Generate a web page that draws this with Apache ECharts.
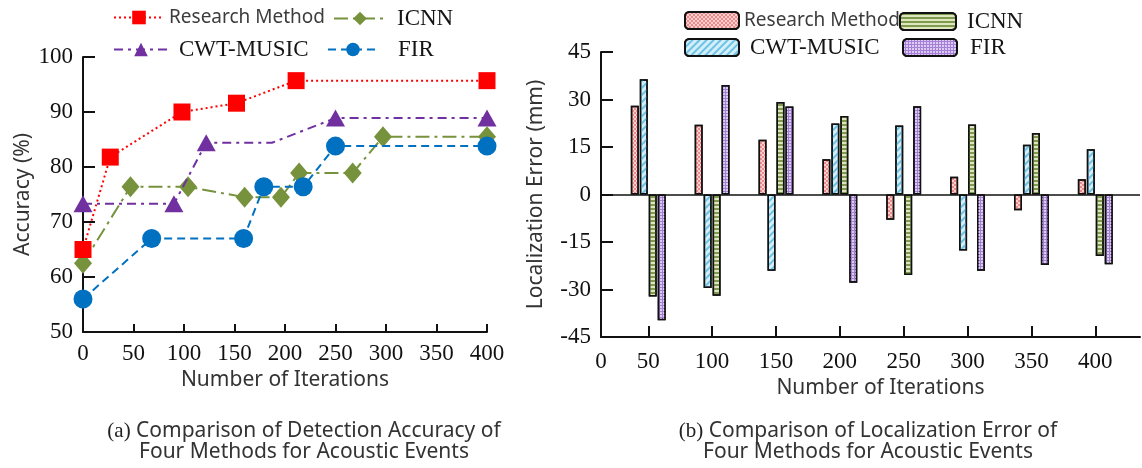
<!DOCTYPE html>
<html>
<head>
<meta charset="utf-8">
<script src="https://cdn.jsdelivr.net/npm/echarts@6/dist/echarts.min.js"></script>
<style>
  html, body { margin: 0; padding: 0; background: #fff; }
  #main { width: 1142px; height: 468px; }
</style>
</head>
<body>
<div id="main"></div>
<script>
// (a) accuracy vs iterations
var iterRM = [0, 27, 98, 152, 211, 400];
var accRM = [65, 81.8, 90, 91.6, 95.7, 95.7];
var iterICNN = [0, 47, 104, 160, 196, 214, 267, 297, 400];
var accICNN = [62.5, 76.4, 76.4, 74.5, 74.5, 78.9, 78.9, 85.5, 85.5];
var iterCWT = [0, 90, 122, 187, 250, 400];
var accCWT = [73.3, 73.3, 84.4, 84.4, 88.9, 88.9];
var markCWT = [1, 1, 1, 0, 1, 1]; // bend point without marker
var iterFIR = [0, 68, 159, 179, 218, 250, 400];
var accFIR = [56, 67, 67, 76.4, 76.4, 83.8, 83.8];

// (b) localization error per iteration group
var errIter = [50, 100, 150, 200, 250, 300, 350, 400];
var errRM = [28.0, 22.0, 17.3, 11.1, -8.0, 5.6, -5.0, 4.8];
var errCWT = [36.4, -29.5, -24.1, 22.4, 21.8, -17.7, 15.7, 14.3];
var errICNN = [-32.2, -32.0, 29.2, 24.8, -25.4, 22.1, 19.4, -19.4];
var errFIR = [-39.7, 34.6, 27.8, -27.9, 27.9, -24.1, -22.3, -22.0];
var errTickLabels = ['0', '50', '100', '150', '200', '250', '300', '350', '400'];

var SANS = 'Noto Sans';
var SERIF = 'Liberation Serif';

function pairs(xs, ys, marks) {
    return xs.map(function (x, i) {
        if (marks && !marks[i]) {
            return { value: [x, ys[i]], symbol: 'none' };
        }
        return [x, ys[i]];
    });
}

function legendItem(name, left, top, serif, pad, iw) {
    return {
        data: [name],
        left: left,
        top: top,
        padding: 0,
        itemWidth: iw || 54,
        itemHeight: 17,
        selectedMode: false,
        formatter: function (n) { return n.replace('b:', ''); },
        textStyle: {
            fontFamily: serif ? SERIF : SANS,
            fontSize: serif ? 23 : 19,
            color: serif ? '#151515' : '#3c3c3c',
            padding: [0, 0, 0, pad || 0]
        }
    };
}

function barDecal(color, dx, dy, rot) {
    return { symbol: 'rect', symbolSize: 1, color: color, dashArrayX: dx, dashArrayY: dy, rotation: rot || 0 };
}

var captionStyle = {
    fontFamily: SANS, fontSize: 21, fontWeight: 'normal', color: '#333', lineHeight: 21,
    rich: { p: { fontFamily: SERIF, fontSize: 21, color: '#222', lineHeight: 21 } }
};

var myChart = echarts.init(document.getElementById('main'));

var option = {
    animation: false,
    title: [
        {
            text: '{p|(a)} Comparison of Detection Accuracy of\nFour Methods for Acoustic Events',
            left: 304, top: 421, padding: 0, textAlign: 'center',
            textStyle: captionStyle
        },
        {
            text: '{p|(b)} Comparison of Localization Error of\nFour Methods for Acoustic Events',
            left: 868, top: 421, padding: 0, textAlign: 'center',
            textStyle: captionStyle
        }
    ],
    legend: [
        legendItem('Research Method', 113, 8, false, 0, 50),
        legendItem('ICNN', 333, 7, true, 6, 52),
        legendItem('CWT-MUSIC', 113, 38, true, 6),
        legendItem('FIR', 327, 38, true, 15, 50),
        legendItem('b:Research Method', 684, 11, false, 0),
        legendItem('b:ICNN', 899, 10, true, 6, 56),
        legendItem('b:CWT-MUSIC', 684, 36, true, 6),
        legendItem('b:FIR', 902, 36, true, 8)
    ],
    grid: [
        { left: 83, top: 57, width: 404, height: 275 },
        { left: 601, top: 52, width: 539, height: 285 }
    ],
    xAxis: [
        {
            gridIndex: 0, type: 'value', min: 0, max: 400, interval: 50,
            name: 'Number of Iterations', nameLocation: 'middle', nameGap: 36,
            nameTextStyle: { fontFamily: SANS, fontSize: 21, color: '#333' },
            axisLine: { show: true, onZero: false, lineStyle: { color: '#111', width: 2 } },
            axisTick: { show: true, inside: true, length: 8, lineStyle: { color: '#111', width: 2 } },
            axisLabel: { fontFamily: SERIF, fontSize: 23, color: '#111', margin: 10 },
            splitLine: { show: false }
        },
        {
            gridIndex: 1, type: 'value', min: 13, max: 435,
            name: 'Number of Iterations', nameLocation: 'middle', nameGap: 28,
            nameTextStyle: { fontFamily: SANS, fontSize: 21, color: '#333', padding: [0, 0, 0, 20] },
            axisLine: { show: true, onZero: false, lineStyle: { color: '#111', width: 2 } },
            axisTick: { show: true, inside: true, length: 11, customValues: errIter, lineStyle: { color: '#111', width: 2 } },
            axisLabel: {
                fontFamily: SERIF, fontSize: 23, color: '#111', margin: 13,
                customValues: [13].concat(errIter),
                formatter: function (v) { return v < 50 ? errTickLabels[0] : String(v); }
            },
            splitLine: { show: false }
        }
    ],
    yAxis: [
        {
            gridIndex: 0, type: 'value', min: 50, max: 100, interval: 10,
            name: 'Accuracy (%)', nameLocation: 'middle', nameGap: 49,
            nameTextStyle: { fontFamily: SANS, fontSize: 21, color: '#333' },
            axisLine: { show: true, onZero: false, lineStyle: { color: '#111', width: 2 } },
            axisTick: { show: true, inside: true, length: 12, lineStyle: { color: '#111', width: 2 } },
            axisLabel: { fontFamily: SERIF, fontSize: 23, color: '#111', margin: 10 },
            splitLine: { show: false }
        },
        {
            gridIndex: 1, type: 'value', min: -45, max: 45, interval: 15,
            name: 'Localization Error (mm)', nameLocation: 'middle', nameGap: 54,
            nameTextStyle: { fontFamily: SANS, fontSize: 21, color: '#333' },
            axisLine: { show: true, onZero: false, lineStyle: { color: '#111', width: 2 } },
            axisTick: { show: true, inside: true, length: 12, lineStyle: { color: '#111', width: 2 } },
            axisLabel: { fontFamily: SERIF, fontSize: 23, color: '#111', margin: 10 },
            splitLine: { show: false }
        }
    ],
    series: [
        {
            name: 'Research Method', type: 'line', xAxisIndex: 0, yAxisIndex: 0,
            data: pairs(iterRM, accRM), symbol: 'rect', symbolSize: 17, z: 5,
            itemStyle: { color: '#ff0000' },
            lineStyle: { color: '#ff0000', width: 2, type: [2, 3] }
        },
        {
            name: 'ICNN', type: 'line', xAxisIndex: 0, yAxisIndex: 0,
            data: pairs(iterICNN, accICNN), symbol: 'diamond', symbolSize: [18, 21], z: 3,
            itemStyle: { color: '#76923c' },
            lineStyle: { color: '#76923c', width: 2, type: [14, 5, 3, 5] }
        },
        {
            name: 'CWT-MUSIC', type: 'line', xAxisIndex: 0, yAxisIndex: 0,
            data: pairs(iterCWT, accCWT, markCWT), symbol: 'triangle', symbolSize: [19, 17], z: 4,
            itemStyle: { color: '#7030a0' },
            lineStyle: { color: '#7030a0', width: 2, type: [9, 5, 3, 5] }
        },
        {
            name: 'FIR', type: 'line', xAxisIndex: 0, yAxisIndex: 0,
            data: pairs(iterFIR, accFIR), symbol: 'circle', symbolSize: 19, z: 4,
            itemStyle: { color: '#0070c0' },
            lineStyle: { color: '#0070c0', width: 2, type: [8, 5] }
        },
        {
            name: 'b:Research Method', type: 'bar', xAxisIndex: 1, yAxisIndex: 1,
            data: pairs(errIter, errRM), barWidth: 8, barGap: '12%',
            itemStyle: {
                color: '#fbd0d0', borderColor: '#111', borderWidth: 1.5,
                decal: barDecal('rgba(226,90,90,0.6)', [[2, 2], [0, 2, 2, 0]], [2, 0])
            },
            markLine: {
                silent: true, symbol: ['none', 'none'], label: { show: false },
                lineStyle: { color: '#111', type: 'solid', width: 1.5 },
                data: [{ yAxis: 0 }]
            }
        },
        {
            name: 'b:CWT-MUSIC', type: 'bar', xAxisIndex: 1, yAxisIndex: 1,
            data: pairs(errIter, errCWT), barWidth: 8, barGap: '12%',
            itemStyle: {
                color: '#d2effa', borderColor: '#111', borderWidth: 1.5,
                decal: barDecal('#6fc2e4', [1, 0], [1.5, 2.5], -Math.PI / 4)
            }
        },
        {
            name: 'b:ICNN', type: 'bar', xAxisIndex: 1, yAxisIndex: 1,
            data: pairs(errIter, errICNN), barWidth: 8, barGap: '12%',
            itemStyle: {
                color: '#dde6bf', borderColor: '#111', borderWidth: 1.5,
                decal: barDecal('#7f9a4c', [1, 0], [1.5, 1.5])
            }
        },
        {
            name: 'b:FIR', type: 'bar', xAxisIndex: 1, yAxisIndex: 1,
            data: pairs(errIter, errFIR), barWidth: 8, barGap: '12%',
            itemStyle: {
                color: '#a57fd6', borderColor: '#111', borderWidth: 1.5,
                decal: barDecal('#dccbf3', [2, 1], [2, 1])
            }
        }
    ]
};

myChart.setOption(option);
</script>
</body>
</html>
